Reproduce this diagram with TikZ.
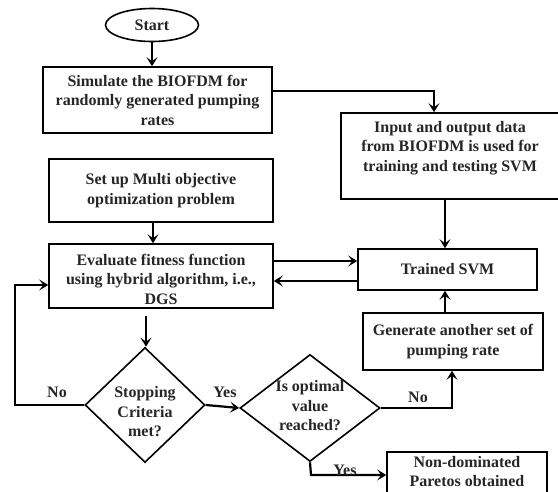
\documentclass[tikz,border=0pt]{standalone}
\usepackage{fontspec}
\setmainfont{Liberation Serif}
\usetikzlibrary{shapes.geometric,arrows.meta}
\begin{document}
\begin{tikzpicture}[x=1pt,y=-1pt,
  box/.style={draw, line width=1.6pt, rectangle, inner sep=0pt, align=center},
  dia/.style={draw, line width=1.6pt, diamond, inner sep=0pt, aspect=1},
  txt/.style={align=center, inner sep=0pt},
  arr/.style={line width=2.2pt, -{Stealth[length=9pt,width=11pt,inset=4pt]}},
  lab/.style={inner sep=0pt},
  every node/.style={font=\bfseries\fontsize{16}{19.5}\selectfont, text=black!85}]
\useasboundingbox (0,0) rectangle (558,492);
\clip (0,0) rectangle (558,492);
\fill[white] (0,0) rectangle (558,492);

% nodes
\node[draw, line width=1.6pt, ellipse, minimum width=93pt, minimum height=33pt, inner sep=0pt] (start) at (152,25) {Start};
\node[box, minimum width=229pt, minimum height=66pt] (sim) at (157.5,100) {Simulate the BIOFDM for\\randomly generated pumping\\rates};
\node[box, minimum width=221pt, minimum height=86pt] (input) at (451.5,156) {};
\node[txt] (inputT) at (450,148) {Input and output data\\from BIOFDM is used for\\training and testing SVM};
\node[box, minimum width=224pt, minimum height=63pt] (setup) at (161,190.5) {Set up Multi objective\\optimization problem};
\node[box, minimum width=224pt, minimum height=64pt] (eval) at (161,276) {};
\node[txt] (evalT) at (161,279) {Evaluate fitness function\\using hybrid algorithm, i.e.,\\DGS};
\node[box, minimum width=179pt, minimum height=41pt] (train) at (447.5,269.5) {Trained SVM};
\node[box, minimum width=180pt, minimum height=57pt] (gen) at (453,341.5) {Generate another set of\\pumping rate};
\node[dia, minimum width=120pt, minimum height=115pt] (stop) at (145,405) {};
\node[txt] (stopT) at (145,412) {Stopping\\Criteria\\met?};
\node[dia, minimum width=140pt, minimum height=107pt] (opt) at (310,408) {};
\node[txt] (optT) at (310,406) {Is optimal\\value\\reached?};
\node[box, minimum width=160pt, minimum height=46pt] (nd) at (467,475) {};
\node[txt] (ndT) at (467,471.5) {Non-dominated\\Paretos obtained};

% coordinates
\coordinate (c1) at (434,91);
\coordinate (c2) at (15,405);
\coordinate (c3) at (15,285);
\coordinate (c4) at (452,410);
\coordinate (c5) at (311,475);
\coordinate (c6) at (146,316);

% connectors
\draw[arr] (start.south) -- (start.south |- sim.north);
\draw[arr] (sim.east |- c1) -- (c1) -- (c1 |- input.north);
\draw[arr] (input.south -| 445,0) -- (train.north -| 445,0);
\draw[arr] (setup.south -| 153,0) -- (eval.north -| 153,0);
\draw[arr] (eval.east |- 0,261) -- (train.west |- 0,261);
\draw[arr] (train.west |- 0,281) -- (eval.east |- 0,281);
\draw[arr] (c6) -- (c6 |- stop.north);
\draw[arr] (stop.west) -- (c2) -- (c3) -- (eval.west |- c3);
\draw[arr] (stop.east) -- (opt.west);
\draw[arr] (opt.east) -- (c4 |- opt.east) -- (c4 |- gen.south);
\draw[arr] (opt.south) -- (c5) -- (nd.west |- c5);
\draw[arr] (gen.north -| 445,0) -- (train.south -| 445,0);

% labels
\node[lab] (no1) at (57,392) {No};
\node[lab] (yes1) at (225,392) {Yes};
\node[lab] (no2) at (418,397) {No};
\node[lab] (yes2) at (345,470) {Yes};
\end{tikzpicture}
\end{document}
